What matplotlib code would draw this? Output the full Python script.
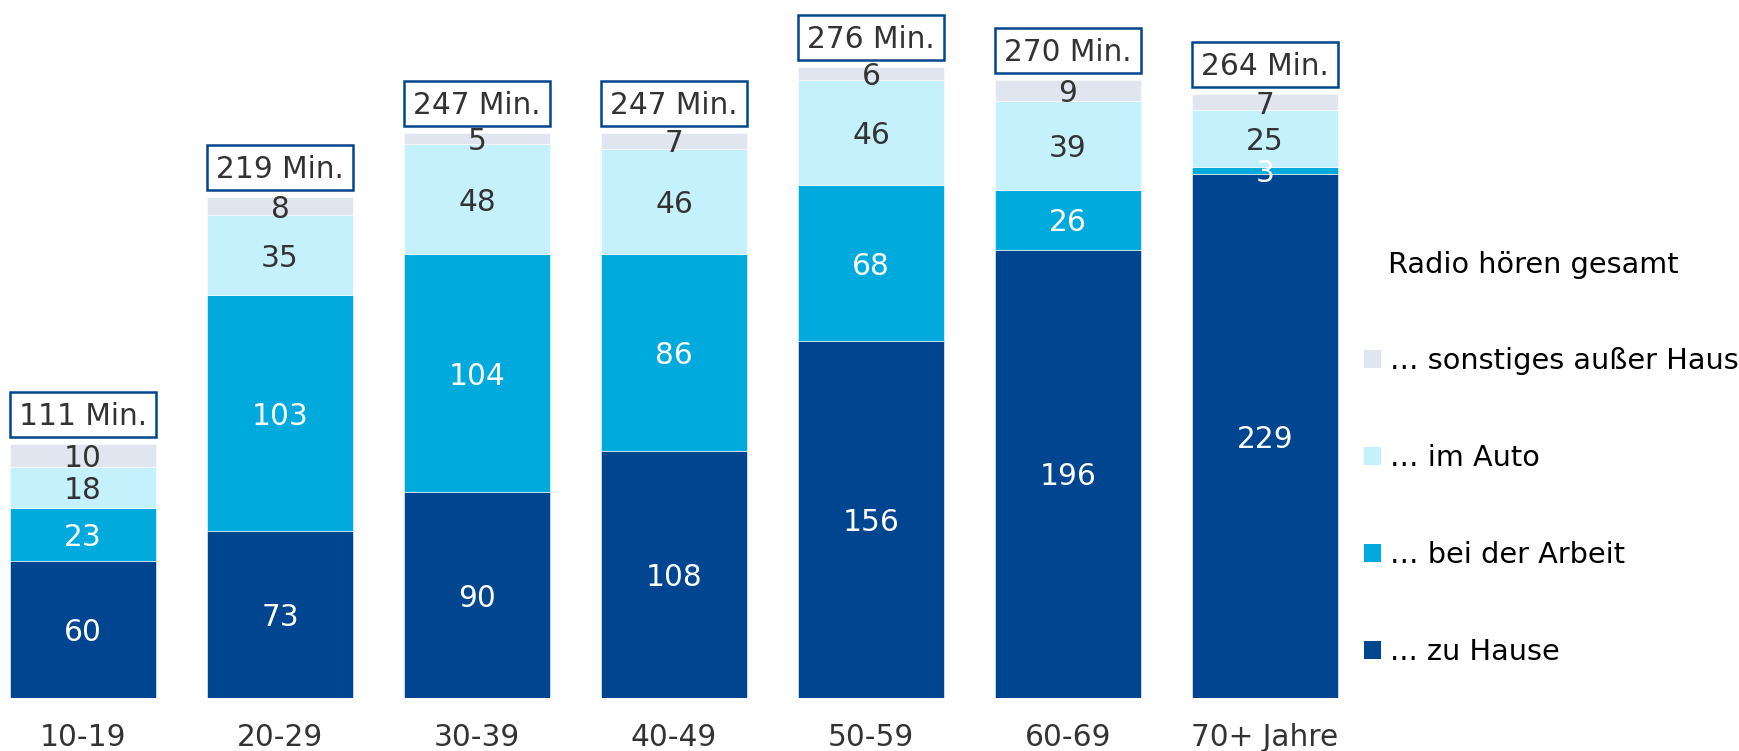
import matplotlib
matplotlib.use("Agg")
import matplotlib.pyplot as plt
from matplotlib.patches import Rectangle
import numpy as np

plt.rcParams['font.family'] = ['DejaVu Sans']

categories = ["10-19", "20-29", "30-39", "40-49", "50-59", "60-69", "70+ Jahre"]
zu_hause = [60, 73, 90, 108, 156, 196, 229]
arbeit = [23, 103, 104, 86, 68, 26, 3]
auto = [18, 35, 48, 46, 46, 39, 25]
sonstiges = [10, 8, 5, 7, 6, 9, 7]
totals = [111, 219, 247, 247, 276, 270, 264]

series = [
    ("... zu Hause", zu_hause, "#00458F", "white"),
    ("… bei der Arbeit", arbeit, "#00AADD", "white"),
    ("… im Auto", auto, "#C5F1FD", "#333333"),
    ("… sonstiges außer Haus", sonstiges, "#E1E5EF", "#333333"),
]

W, H = 1740, 751
fig = plt.figure(figsize=(W / 100, H / 100), dpi=100)
ax_left, ax_right = 0, 1340
ax_bottom_px = 53
ax = fig.add_axes([ax_left / W, ax_bottom_px / H, (ax_right - ax_left) / W, (H - ax_bottom_px) / H])

spacing = 197.0
c0 = 83.0
ax.set_xlim((ax_left - c0) / spacing, (ax_right - c0) / spacing)
px_per_unit = 2.288
ax.set_ylim(0, (H - ax_bottom_px) / px_per_unit)

FS = 21.3
x = np.arange(len(categories))
bw = 0.74
bottom = np.zeros(len(categories))
handles = []
for label, vals, color, tcolor in series:
    vals = np.array(vals, dtype=float)
    bars = ax.bar(x, vals, bw, bottom=bottom, color=color, label=label,
                  edgecolor="white", linewidth=0.4)
    handles.append(bars)
    for xi, b, v in zip(x, bottom, vals):
        ax.annotate(f"{int(v)}", (xi, b + v / 2), xytext=(0, -2.2),
                    textcoords="offset points", ha="center", va="center",
                    fontsize=FS, color=tcolor)
    bottom += vals

# total boxes
for xi, t in zip(x, totals):
    y0 = t + 3.0
    h = 19.7
    ax.add_patch(Rectangle((xi - bw / 2, y0), bw, h, facecolor="white",
                           edgecolor="#00458F", linewidth=1.8, clip_on=False))
    ax.annotate(f"{t} Min.", (xi, y0 + h / 2), xytext=(0, -1.5),
                textcoords="offset points", ha="center", va="center",
                fontsize=FS, color="#333333")

ax.set_xticks(x)
ax.set_xticklabels(categories, fontsize=FS, color="#333333")
ax.tick_params(axis="x", length=0, pad=18)
ax.set_yticks([])
for s in ax.spines.values():
    s.set_visible(False)

LFS = 20.7
fig.text(1388 / W, 1 - 265 / H, "Radio hören gesamt", fontsize=LFS,
         color="black", ha="left", va="center")
leg = fig.legend(handles[::-1], [s[0] for s in series][::-1],
                 loc="upper left", bbox_to_anchor=(1364 / W, 1 - 347 / H),
                 frameon=False, fontsize=LFS, handlelength=0.6, handleheight=0.6,
                 handletextpad=0.3, labelspacing=2.4, borderpad=0, borderaxespad=0)
for p in leg.get_patches():
    p.set_edgecolor("none")

fig.savefig("out.png", dpi=100)
